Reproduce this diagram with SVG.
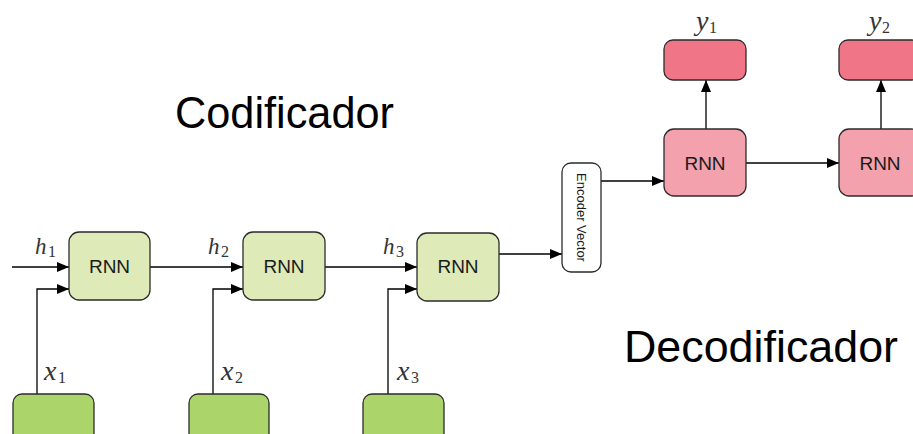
<svg xmlns="http://www.w3.org/2000/svg" width="913" height="434" viewBox="0 0 913 434">
  <defs>
    <marker id="arrow" viewBox="0 0 12 10" refX="12" refY="5" markerWidth="12" markerHeight="10" markerUnits="userSpaceOnUse" orient="auto">
      <path d="M0,0 L12,5 L0,10 z" fill="#000"/>
    </marker>
    <style>
      .enc { fill: #dfeab9; stroke: #2b2b2b; stroke-width: 1.3; }
      .inp { fill: #abd56b; stroke: #2b2b2b; stroke-width: 1.3; }
      .dec { fill: #f4a1ae; stroke: #2b2b2b; stroke-width: 1.3; }
      .out { fill: #ef7587; stroke: #2b2b2b; stroke-width: 1.3; }
      .vec { fill: #ffffff; stroke: #2b2b2b; stroke-width: 1.3; }
      .lbl { font-family: "Liberation Sans", Arial, sans-serif; font-size: 19px; fill: #1a1a1a; text-anchor: middle; }
      .title { font-family: "Liberation Sans", Arial, sans-serif; font-size: 44px; fill: #000; }
      .math { font-family: "Liberation Serif", "Times New Roman", serif; fill: #333; font-style: italic; }
      .mh { font-size: 23px; }
      .mx { font-size: 28px; }
      .sub { font-style: normal; font-size: 16px; }
      .vtxt { font-family: "Liberation Sans", Arial, sans-serif; font-size: 13px; fill: #1a1a1a; text-anchor: middle; }
      .conn { fill: none; stroke: #000; stroke-width: 1.3; marker-end: url(#arrow); }
    </style>
  </defs>
  <rect width="913" height="434" fill="#ffffff"/>

  <!-- titles -->
  <text class="title" x="175" y="128" textLength="219" lengthAdjust="spacingAndGlyphs">Codificador</text>
  <text class="title" x="624" y="362" textLength="274" lengthAdjust="spacingAndGlyphs">Decodificador</text>

  <!-- connectors -->
  <g id="connectors">
    <path class="conn" d="M12,267 H69"/>
    <path class="conn" d="M37,394 V289 H69"/>
    <path class="conn" d="M150,267 H243"/>
    <path class="conn" d="M213,394 V289 H243"/>
    <path class="conn" d="M325,267 H417"/>
    <path class="conn" d="M388,394 V289 H417"/>
    <path class="conn" d="M499,254 H562"/>
    <path class="conn" d="M601,181 H664"/>
    <path class="conn" d="M746,163 H839"/>
    <path class="conn" d="M706,129 V80"/>
    <path class="conn" d="M881,129 V80"/>
  </g>

  <!-- encoder inputs -->
  <g id="x1"><rect class="inp" x="13" y="394" width="81" height="50" rx="9"/></g>
  <g id="x2"><rect class="inp" x="189" y="394" width="80" height="50" rx="9"/></g>
  <g id="x3"><rect class="inp" x="363" y="394" width="81" height="50" rx="9"/></g>

  <!-- encoder cells -->
  <g id="enc1"><rect class="enc" x="69" y="232" width="81" height="68" rx="10"/><text class="lbl" x="109.5" y="273">RNN</text></g>
  <g id="enc2"><rect class="enc" x="243" y="232" width="82" height="68" rx="10"/><text class="lbl" x="284" y="273">RNN</text></g>
  <g id="enc3"><rect class="enc" x="417" y="233" width="82" height="68" rx="10"/><text class="lbl" x="458" y="273">RNN</text></g>

  <!-- encoder vector -->
  <g id="encoder-vector">
    <rect class="vec" x="562" y="163" width="39" height="109" rx="9"/>
    <text class="vtxt" transform="translate(577,217.5) rotate(90)">Encoder Vector</text>
  </g>

  <!-- decoder cells -->
  <g id="dec1"><rect class="dec" x="664" y="129" width="82" height="67" rx="10"/><text class="lbl" x="705" y="170">RNN</text></g>
  <g id="dec2"><rect class="dec" x="839" y="129" width="82" height="67" rx="10"/><text class="lbl" x="880" y="170">RNN</text></g>

  <!-- decoder outputs -->
  <g id="y1"><rect class="out" x="664" y="40" width="82" height="40" rx="9"/></g>
  <g id="y2"><rect class="out" x="839" y="40" width="82" height="40" rx="9"/></g>

  <!-- math labels -->
  <g id="labels">
    <text class="math mh" x="35" y="254">h<tspan class="sub" x="48" y="257">1</tspan></text>
    <text class="math mh" x="208" y="254">h<tspan class="sub" x="221" y="257">2</tspan></text>
    <text class="math mh" x="383" y="254">h<tspan class="sub" x="396" y="257">3</tspan></text>
    <text class="math mx" x="44" y="380">x<tspan class="sub" x="58" y="383">1</tspan></text>
    <text class="math mx" x="221" y="380">x<tspan class="sub" x="235" y="383">2</tspan></text>
    <text class="math mx" x="397" y="380">x<tspan class="sub" x="411" y="383">3</tspan></text>
    <text class="math mx" x="696" y="30">y<tspan class="sub" x="709" y="33">1</tspan></text>
    <text class="math mx" x="869" y="30">y<tspan class="sub" x="882" y="33">2</tspan></text>
  </g>
</svg>
